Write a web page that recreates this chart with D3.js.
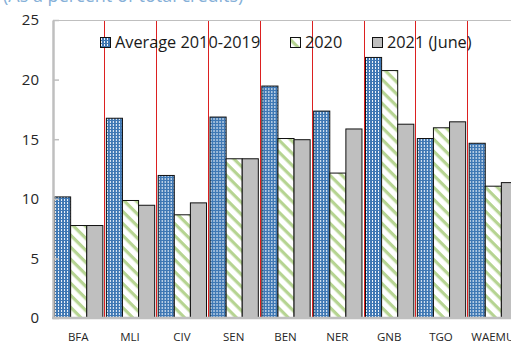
<!DOCTYPE html>
<html>
<head>
<meta charset="utf-8">
<script src="https://cdn.jsdelivr.net/npm/d3@7"></script>
<style>
  html, body { margin: 0; padding: 0; background: #fff; overflow: hidden; }
  svg { display: block; font-family: "Open Sans", "Noto Sans", sans-serif; }
</style>
</head>
<body>
<svg id="chart" width="511" height="343"></svg>
<script>
// Shares by country, in percent of total credits
const categories = ["BFA", "MLI", "CIV", "SEN", "BEN", "NER", "GNB", "TGO", "WAEMU"];
const seriesNames = ["Average 2010-2019", "2020", "2021 (June)"];
const avg2010_2019 = [10.2, 16.8, 12.0, 16.9, 19.5, 17.4, 21.9, 15.1, 14.7];
const y2020 = [7.8, 9.9, 8.7, 13.4, 15.1, 12.2, 20.8, 16.0, 11.1];
const y2021June = [7.8, 9.5, 9.7, 13.4, 15.0, 15.9, 16.3, 16.5, 11.4];
const yTicks = [0, 5, 10, 15, 20, 25];
const subtitle = "(As a percent of total credits)";

const series = [avg2010_2019, y2020, y2021June];

const svg = d3.select("#chart");
const W = 511, H = 343;
const plot = { left: 53, top: 20, bottom: 318, right: 518 };

// Fill patterns for the three series
const defs = svg.append("defs");
const dots = defs.append("pattern").attr("id", "dots")
  .attr("patternUnits", "userSpaceOnUse").attr("width", 3).attr("height", 3);
dots.append("rect").attr("width", 3).attr("height", 3).attr("fill", "#3f78b4");
dots.append("rect").attr("x", 1).attr("y", 1).attr("width", 1).attr("height", 2).attr("fill", "#eef4fa");

const stripes = defs.append("pattern").attr("id", "stripes")
  .attr("patternUnits", "userSpaceOnUse").attr("width", 8.5).attr("height", 8.5)
  .attr("patternTransform", "rotate(45)");
stripes.append("rect").attr("width", 8.5).attr("height", 8.5).attr("fill", "#fff");
stripes.append("rect").attr("width", 8.5).attr("height", 3.2).attr("fill", "#b6d492");

const fills = ["url(#dots)", "url(#stripes)", "#bfbfbf"];

// Scales
const x0 = d3.scaleBand().domain(categories)
  .range([plot.left, plot.right]).paddingInner(0.068).paddingOuter(0.02);
const x1 = d3.scaleBand().domain(d3.range(series.length))
  .range([0, x0.bandwidth()]);
const y = d3.scaleLinear().domain([0, 25]).range([plot.bottom, plot.top]);

// Subtitle, mostly above the visible frame
svg.append("text").attr("x", 3).attr("y", 2)
  .attr("font-size", 18).attr("fill", "#86b0d8").text(subtitle);

// Plot frame (top edge)
svg.append("line").attr("x1", plot.left).attr("x2", W)
  .attr("y1", plot.top + 0.5).attr("y2", plot.top + 0.5)
  .attr("stroke", "#bfbfbf").attr("stroke-width", 1);

// Bars
const groups = svg.append("g").selectAll("g").data(categories).join("g")
  .attr("transform", d => `translate(${x0(d)},0)`);
groups.selectAll("rect")
  .data((c, i) => series.map((s, k) => ({ k, v: s[i] })))
  .join("rect")
  .attr("x", d => x1(d.k) + 0.5)
  .attr("y", d => y(d.v) + 0.5)
  .attr("width", x1.bandwidth())
  .attr("height", d => y(0) - y(d.v))
  .attr("fill", d => fills[d.k])
  .attr("stroke", "#111")
  .attr("stroke-width", 1);

// Red separators between countries, just left of each group
svg.append("g").selectAll("line").data(categories.slice(1)).join("line")
  .attr("x1", d => Math.floor(x0(d)) - 0.5)
  .attr("x2", d => Math.floor(x0(d)) - 0.5)
  .attr("y1", plot.top + 1).attr("y2", plot.bottom)
  .attr("stroke", "#dc2020").attr("stroke-width", 1);

// Y axis with inward ticks
const yAxis = svg.append("g").attr("transform", `translate(${plot.left},0)`)
  .call(d3.axisLeft(y).tickValues(yTicks).tickSizeInner(-6).tickSizeOuter(0).tickPadding(14));
yAxis.select(".domain").attr("stroke", "#bfbfbf").attr("stroke-width", 2.5);
yAxis.selectAll(".tick line").attr("stroke", "#bfbfbf").attr("stroke-width", 1.5);
yAxis.selectAll(".tick text").attr("font-size", 15).attr("fill", "#262626")
  .attr("font-family", "'Open Sans', sans-serif");

// X axis
const xAxis = svg.append("g").attr("transform", `translate(0,${plot.bottom})`)
  .call(d3.axisBottom(x0).tickSize(0).tickPadding(15));
xAxis.select(".domain").attr("stroke", "#bfbfbf").attr("stroke-width", 2.5)
  .attr("d", `M${plot.left - 1},0H${W}`);
xAxis.selectAll(".tick text").attr("font-size", 11.5).attr("fill", "#262626")
  .attr("font-family", "'Open Sans', sans-serif")
  .attr("dy", "0.71em");

// Legend
const legendPos = [100, 290, 372];
const legend = svg.append("g").selectAll("g").data(seriesNames).join("g")
  .attr("transform", (d, i) => `translate(${legendPos[i]},37)`);
legend.append("rect").attr("x", 0.5).attr("y", 0.5).attr("width", 10).attr("height", 10)
  .attr("fill", (d, i) => fills[i]).attr("stroke", "#111");
legend.append("text").attr("x", 15).attr("y", 10.5)
  .attr("font-size", 16.3).attr("fill", "#1a1a1a").text(d => d);
</script>
</body>
</html>
